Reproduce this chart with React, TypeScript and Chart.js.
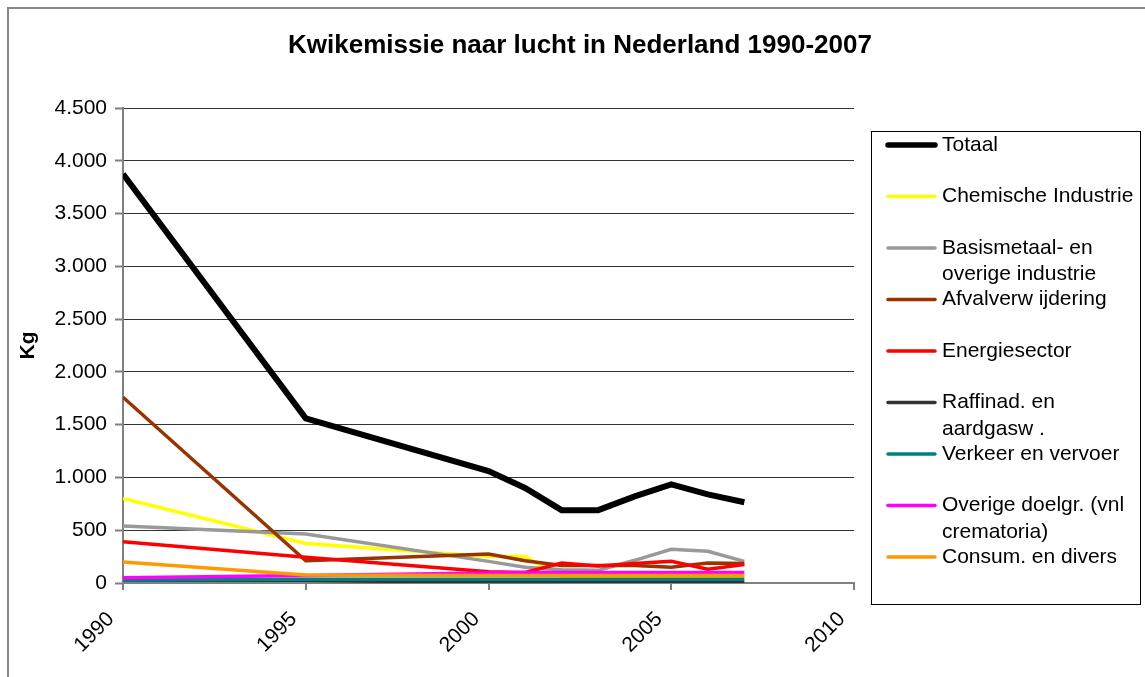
import React, { useEffect, useRef } from "react";
import { Chart, registerables } from "chart.js";

Chart.register(...registerables);

const years = [1990, 1995, 2000, 2001, 2002, 2003, 2004, 2005, 2006, 2007];
const totaal = [3875, 1560, 1060, 900, 690, 690, 820, 935, 840, 765];
const chemische = [800, 375, 250, 250, 60, 60, 60, 60, 60, 60];
const basismetaal = [540, 465, 205, 150, 125, 120, 215, 320, 300, 205];
const afval = [1760, 210, 275, 210, 165, 165, 165, 150, 190, 185];
const energie = [390, 245, 107, 100, 190, 160, 185, 205, 130, 175];
const raffinad = [25, 25, 5, 5, 5, 5, 5, 5, 5, 5];
const verkeer = [25, 35, 35, 35, 35, 35, 35, 35, 35, 35];
const overige = [50, 70, 95, 100, 100, 100, 100, 100, 100, 100];
const consum = [200, 75, 72, 72, 72, 72, 72, 70, 70, 70];

const seriesNames = [
  ["Totaal"],
  ["Chemische Industrie"],
  ["Basismetaal- en", "overige industrie"],
  ["Afvalverw ijdering"],
  ["Energiesector"],
  ["Raffinad. en", "aardgasw ."],
  ["Verkeer en vervoer"],
  ["Overige doelgr. (vnl", "crematoria)"],
  ["Consum. en divers"],
];
const seriesValues = [totaal, chemische, basismetaal, afval, energie, raffinad, verkeer, overige, consum];
const seriesColors = ["#000000", "#FFFF00", "#999999", "#993300", "#FF0000", "#333333", "#008080", "#FF00FF", "#FF9900"];
const seriesWidths = [6, 3.5, 3.5, 3.5, 3.5, 3.5, 3.5, 3.5, 3.5];

const yTicks = [0, 500, 1000, 1500, 2000, 2500, 3000, 3500, 4000, 4500];
const xTicks = [1990, 1995, 2000, 2005, 2010];

const chartTitle = "Kwikemissie naar lucht in Nederland 1990-2007";
const yTitle = "Kg";

const FONT = "'Liberation Sans', Arial, sans-serif";

function fmt(v: number): string {
  return String(Math.round(v)).replace(/\B(?=(\d{3})+(?!\d))/g, ".");
}

const decorPlugin = {
  id: "decor",
  afterDraw(chart: any) {
    const ctx = chart.ctx;
    ctx.save();
    // title
    ctx.fillStyle = "#000";
    ctx.font = `bold 26px ${FONT}`;
    ctx.textAlign = "center";
    ctx.textBaseline = "middle";
    ctx.fillText(chartTitle, 571, 37);
    // legend box
    const bx = 862, by = 122, bw = 269, bh = 473;
    ctx.strokeStyle = "#000";
    ctx.lineWidth = 1;
    ctx.strokeRect(bx + 0.5, by + 0.5, bw, bh);
    ctx.font = `21px ${FONT}`;
    ctx.textAlign = "left";
    seriesNames.forEach((lines, i) => {
      const cy = 136 + i * 51.5;
      ctx.strokeStyle = seriesColors[i];
      ctx.lineWidth = i === 0 ? 5.5 : 3.5;
      ctx.lineCap = "round";
      ctx.beginPath();
      ctx.moveTo(879, cy);
      ctx.lineTo(926, cy);
      ctx.stroke();
      ctx.fillStyle = "#000";
      lines.forEach((t, j) => {
        ctx.fillText(t, 933, cy + j * 26.5);
      });
    });
    ctx.restore();
  },
};

export default function App() {
  const ref = useRef<HTMLCanvasElement>(null);
  useEffect(() => {
    if (!ref.current) return;
    const datasets = seriesValues.map((vals, i) => ({
      label: seriesNames[i].join(" "),
      data: vals.map((v, k) => ({ x: years[k], y: v })),
      borderColor: seriesColors[i],
      backgroundColor: seriesColors[i],
      borderWidth: seriesWidths[i],
      pointRadius: 0,
      tension: 0,
      fill: false,
      order: -i,
    }));
    const chart = new Chart(ref.current, {
      type: "line",
      data: { datasets },
      plugins: [decorPlugin],
      options: {
        animation: false,
        responsive: false,
        maintainAspectRatio: false,
        layout: { padding: { left: 0, right: 291, top: 99, bottom: 0 } },
        plugins: {
          legend: { display: false },
          title: { display: false },
          tooltip: { enabled: false },
        },
        scales: {
          x: {
            type: "linear",
            min: 1990,
            max: 2010,
            afterFit: (s: any) => { s.height = 94; },
            afterBuildTicks: (s: any) => { s.ticks = xTicks.map((v) => ({ value: v })); },
            ticks: {
              callback: (v: any) => String(v),
              maxRotation: 45,
              minRotation: 45,
              font: { size: 21, family: FONT },
              color: "#000",
              padding: 17,
              labelOffset: -12,
            },
            grid: {
              drawOnChartArea: false,
              drawTicks: true,
              tickLength: 7,
              color: "#808080",
              lineWidth: 2,
            },
            border: { color: "#808080", width: 2 },
          },
          y: {
            min: 0,
            max: 4500,
            afterFit: (s: any) => { s.width = 114; },
            afterBuildTicks: (s: any) => { s.ticks = yTicks.map((v) => ({ value: v })); },
            ticks: {
              callback: (v: any) => fmt(Number(v)),
              font: { size: 21, family: FONT },
              color: "#000",
              padding: 8,
            },
            grid: {
              color: "#333333",
              lineWidth: 1,
              tickLength: 8,
              tickColor: "#808080",
              tickWidth: 2,
            },
            border: { color: "#808080", width: 2 },
            title: {
              display: true,
              text: yTitle,
              color: "#000",
              font: { size: 21, weight: "bold", family: FONT },
              padding: { top: 7, bottom: 0 },
            },
          },
        },
      } as any,
    });
    return () => chart.destroy();
  }, []);
  return (
    <div
      style={{
        position: "fixed",
        left: 7,
        top: 7,
        width: 1138,
        height: 670,
        borderTop: "2px solid #888",
        borderLeft: "2px solid #888",
        boxSizing: "border-box",
        background: "#fff",
      }}
    >
      <canvas ref={ref} width={1136} height={668} style={{ display: "block", width: 1136, height: 668 }} />
    </div>
  );
}
